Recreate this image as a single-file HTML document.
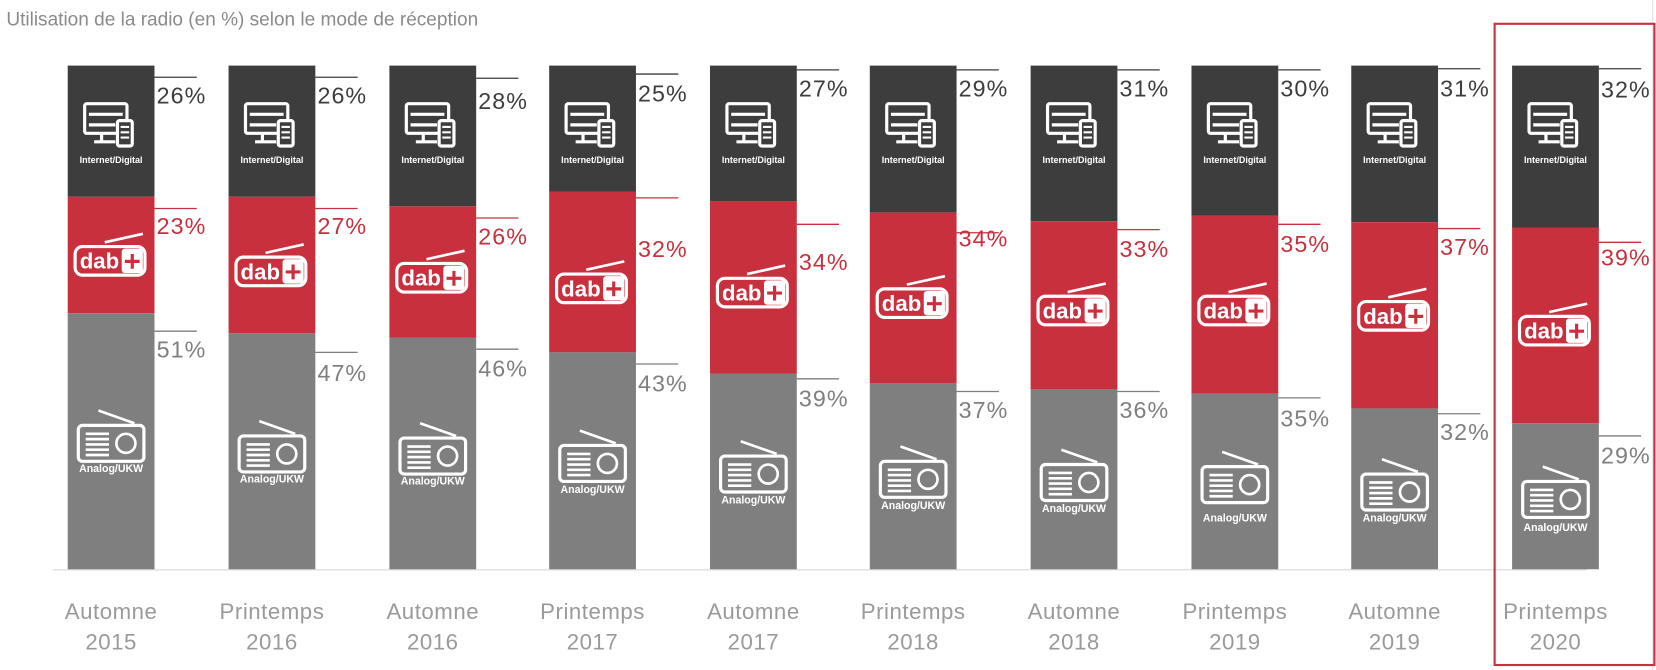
<!DOCTYPE html>
<html><head><meta charset="utf-8"><style>
html,body{margin:0;padding:0;background:#fff;}
svg{display:block;}
.t{font-family:"Liberation Sans",sans-serif;}
</style></head><body>
<svg width="1656" height="670" viewBox="0 0 1565 633.2" preserveAspectRatio="none" xmlns="http://www.w3.org/2000/svg">
<defs>
<g id="mon" fill="none" stroke="#fff" stroke-width="3">
<rect x="-25" y="-22" width="40" height="28" rx="2"/>
<line x1="-21" y1="-12" x2="11" y2="-12"/>
<line x1="-21" y1="-2" x2="4" y2="-2"/>
<path d="M-9 6 V13 M-16 14 H4" />
<rect x="6" y="-6" width="14" height="24" rx="2" fill="#3d3d3d"/>
<path d="M9 0 H17 M9 5 H17 M9 10 H17" stroke-width="2"/>
</g>
<g id="dab">
<line x1="-6" y1="-17" x2="30" y2="-25" stroke="#fff" stroke-width="2.5"/>
<rect x="-34" y="-13" width="66" height="27" rx="7" fill="none" stroke="#fff" stroke-width="3"/>
<rect x="10" y="-11" width="20" height="23" rx="3" fill="#fff"/>
<path d="M20 -6 V8 M13 1 H27" stroke="#c9303e" stroke-width="3"/>
</g>
<g id="rad" fill="none" stroke="#fff" stroke-width="3">
<line x1="-12" y1="-17" x2="22" y2="-5" stroke-width="2.5"/>
<rect x="-31" y="-3" width="62" height="34" rx="4"/>
<path d="M-24 5 H-2 M-24 10 H-2 M-24 15 H-2 M-24 20 H-2 M-24 25 H-2" stroke-width="2.5"/>
<circle cx="14" cy="14" r="9" stroke-width="2.5"/>
</g>
</defs>
<text class="t" x="6" y="24" font-size="18" fill="#8a8a8a">Utilisation de la radio (en %) selon le mode de réception</text>
<line x1="50" y1="538.5" x2="1500" y2="538.5" stroke="#d9d9d9" stroke-width="1"/>
<line x1="1562" y1="0" x2="1562" y2="634" stroke="#e0e0e0"/>
<rect x="1412.5" y="22.5" width="151" height="606" fill="none" stroke="#c9303e" stroke-width="2"/>

<rect x="64" y="62" width="82" height="124" fill="#3d3d3d"/><rect x="64" y="186" width="82" height="110" fill="#c9303e"/><rect x="64" y="296" width="82" height="242" fill="#7f7f7f"/>
<rect x="216" y="62" width="82" height="124" fill="#3d3d3d"/><rect x="216" y="186" width="82" height="129" fill="#c9303e"/><rect x="216" y="315" width="82" height="223" fill="#7f7f7f"/>
<rect x="368" y="62" width="82" height="133" fill="#3d3d3d"/><rect x="368" y="195" width="82" height="124" fill="#c9303e"/><rect x="368" y="319" width="82" height="219" fill="#7f7f7f"/>
<rect x="519" y="62" width="82" height="119" fill="#3d3d3d"/><rect x="519" y="181" width="82" height="152" fill="#c9303e"/><rect x="519" y="333" width="82" height="205" fill="#7f7f7f"/>
<rect x="671" y="62" width="82" height="128" fill="#3d3d3d"/><rect x="671" y="190" width="82" height="163" fill="#c9303e"/><rect x="671" y="353" width="82" height="185" fill="#7f7f7f"/>
<rect x="822" y="62" width="82" height="139" fill="#3d3d3d"/><rect x="822" y="201" width="82" height="161" fill="#c9303e"/><rect x="822" y="362" width="82" height="176" fill="#7f7f7f"/>
<rect x="974" y="62" width="82" height="147" fill="#3d3d3d"/><rect x="974" y="209" width="82" height="159" fill="#c9303e"/><rect x="974" y="368" width="82" height="170" fill="#7f7f7f"/>
<rect x="1126" y="62" width="82" height="142" fill="#3d3d3d"/><rect x="1126" y="204" width="82" height="168" fill="#c9303e"/><rect x="1126" y="372" width="82" height="166" fill="#7f7f7f"/>
<rect x="1277" y="62" width="82" height="148" fill="#3d3d3d"/><rect x="1277" y="210" width="82" height="176" fill="#c9303e"/><rect x="1277" y="386" width="82" height="152" fill="#7f7f7f"/>
<rect x="1429" y="62" width="82" height="153" fill="#3d3d3d"/><rect x="1429" y="215" width="82" height="185" fill="#c9303e"/><rect x="1429" y="400" width="82" height="138" fill="#7f7f7f"/>

<g>
<use href="#mon" x="105" y="120"/><use href="#mon" x="257" y="120"/><use href="#mon" x="409" y="120"/><use href="#mon" x="560" y="120"/><use href="#mon" x="712" y="120"/><use href="#mon" x="863" y="120"/><use href="#mon" x="1015" y="120"/><use href="#mon" x="1167" y="120"/><use href="#mon" x="1318" y="120"/><use href="#mon" x="1470" y="120"/>
</g>
<g class="t" font-size="8.5" font-weight="bold" fill="#fff" text-anchor="middle">
<text x="105" y="154">Internet/Digital</text><text x="257" y="154">Internet/Digital</text><text x="409" y="154">Internet/Digital</text><text x="560" y="154">Internet/Digital</text><text x="712" y="154">Internet/Digital</text><text x="863" y="154">Internet/Digital</text><text x="1015" y="154">Internet/Digital</text><text x="1167" y="154">Internet/Digital</text><text x="1318" y="154">Internet/Digital</text><text x="1470" y="154">Internet/Digital</text>
</g>
<g>
<use href="#dab" x="105" y="246"/><use href="#dab" x="257" y="256"/><use href="#dab" x="409" y="262"/><use href="#dab" x="560" y="272"/><use href="#dab" x="712" y="276"/><use href="#dab" x="863" y="286"/><use href="#dab" x="1015" y="293"/><use href="#dab" x="1167" y="293"/><use href="#dab" x="1318" y="298"/><use href="#dab" x="1470" y="312"/>
</g>
<g class="t" font-size="21" font-weight="bold" fill="#fff" text-anchor="middle">
<text x="94" y="254">dab</text><text x="246" y="264">dab</text><text x="398" y="270">dab</text><text x="549" y="280">dab</text><text x="701" y="284">dab</text><text x="852" y="294">dab</text><text x="1004" y="301">dab</text><text x="1156" y="301">dab</text><text x="1307" y="306">dab</text><text x="1459" y="320">dab</text>
</g>
<g>
<use href="#rad" x="105" y="405"/><use href="#rad" x="257" y="415"/><use href="#rad" x="409" y="417"/><use href="#rad" x="560" y="424"/><use href="#rad" x="712" y="434"/><use href="#rad" x="863" y="439"/><use href="#rad" x="1015" y="442"/><use href="#rad" x="1167" y="444"/><use href="#rad" x="1318" y="451"/><use href="#rad" x="1470" y="458"/>
</g>
<g class="t" font-size="10" font-weight="bold" fill="#fff" text-anchor="middle">
<text x="105" y="446">Analog/UKW</text><text x="257" y="456">Analog/UKW</text><text x="409" y="458">Analog/UKW</text><text x="560" y="466">Analog/UKW</text><text x="712" y="476">Analog/UKW</text><text x="863" y="481">Analog/UKW</text><text x="1015" y="484">Analog/UKW</text><text x="1167" y="493">Analog/UKW</text><text x="1318" y="493">Analog/UKW</text><text x="1470" y="502">Analog/UKW</text>
</g>

<g stroke-width="1.2">
<path stroke="#3d3d3d" d="M146 73H186M298 73H338M450 74H490M601 70H641M753 66H793M904 66H944M1056 66H1096M1208 66H1248M1359 65H1399M1511 65H1551"/>
<path stroke="#c9303e" d="M146 197H186M298 197H338M450 206H490M601 187H641M753 212H793M904 220H944M1056 217H1096M1208 212H1248M1359 216H1399M1511 229H1551"/>
<path stroke="#7f7f7f" d="M146 313H186M298 333H338M450 330H490M601 344H641M753 358H793M904 370H944M1056 370H1096M1208 376H1248M1359 391H1399M1511 412H1551"/>
</g>
<g class="t" font-size="22" fill="#3d3d3d" letter-spacing="1">
<text x="148" y="98">26%</text><text x="300" y="98">26%</text><text x="452" y="103">28%</text><text x="603" y="96">25%</text><text x="755" y="91">27%</text><text x="906" y="91">29%</text><text x="1058" y="91">31%</text><text x="1210" y="91">30%</text><text x="1361" y="91">31%</text><text x="1513" y="92">32%</text>
</g>
<g class="t" font-size="22" fill="#c9303e" letter-spacing="1">
<text x="148" y="221">23%</text><text x="300" y="221">27%</text><text x="452" y="231">26%</text><text x="603" y="243">32%</text><text x="755" y="255">34%</text><text x="906" y="233">34%</text><text x="1058" y="243">33%</text><text x="1210" y="238">35%</text><text x="1361" y="241">37%</text><text x="1513" y="251">39%</text>
</g>
<g class="t" font-size="22" fill="#7f7f7f" letter-spacing="1">
<text x="148" y="338">51%</text><text x="300" y="360">47%</text><text x="452" y="356">46%</text><text x="603" y="370">43%</text><text x="755" y="384">39%</text><text x="906" y="395">37%</text><text x="1058" y="395">36%</text><text x="1210" y="403">35%</text><text x="1361" y="416">32%</text><text x="1513" y="438">29%</text>
</g>
<g class="t" font-size="21" fill="#9a9a9a" text-anchor="middle" letter-spacing="0.5">
<text x="105" y="585">Automne</text><text x="105" y="614">2015</text>
<text x="257" y="585">Printemps</text><text x="257" y="614">2016</text>
<text x="409" y="585">Automne</text><text x="409" y="614">2016</text>
<text x="560" y="585">Printemps</text><text x="560" y="614">2017</text>
<text x="712" y="585">Automne</text><text x="712" y="614">2017</text>
<text x="863" y="585">Printemps</text><text x="863" y="614">2018</text>
<text x="1015" y="585">Automne</text><text x="1015" y="614">2018</text>
<text x="1167" y="585">Printemps</text><text x="1167" y="614">2019</text>
<text x="1318" y="585">Automne</text><text x="1318" y="614">2019</text>
<text x="1470" y="585">Printemps</text><text x="1470" y="614">2020</text>
</g>
</svg>
</body></html>
